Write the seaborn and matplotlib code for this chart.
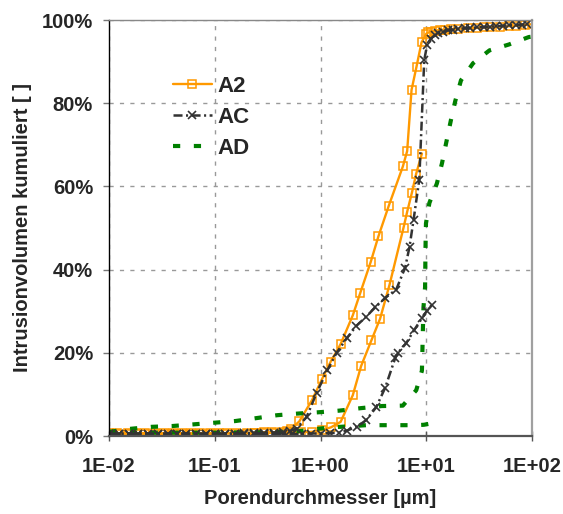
import matplotlib
matplotlib.use("Agg")
import matplotlib.pyplot as plt
import seaborn as sns
from matplotlib.ticker import FixedLocator, FixedFormatter, NullLocator

# ---------------- data (pore diameter in µm, cumulative intrusion in %) ----------------
a2_in_x = [0.010, 0.012, 0.015, 0.018, 0.022, 0.027, 0.033, 0.040, 0.049, 0.060, 0.073,
           0.090, 0.11, 0.13, 0.16, 0.20, 0.24, 0.29, 0.35, 0.43, 0.48, 0.53, 0.63, 0.83,
           1.03, 1.25, 1.55, 2.02, 2.37, 2.99, 3.53, 4.43, 6.01, 6.6, 7.26, 8.09, 9.02,
           10.0, 10.5, 11.0, 12.0, 13.5, 15.0, 17.0, 20.0, 25.0, 30.0, 35.0, 40.0, 50.0,
           60.0, 70.0, 85.0, 100.0]
a2_in_y = [0.7, 0.7, 0.7, 0.7, 0.7, 0.7, 0.7, 0.7, 0.7, 0.7, 0.7,
           0.7, 0.7, 0.7, 0.8, 0.8, 0.8, 0.9, 0.9, 1.0, 1.2, 1.8, 3.5, 8.6,
           13.6, 17.9, 22.1, 29.0, 34.3, 41.9, 48.0, 55.4, 64.8, 68.5, 83.2, 88.8, 94.6,
           96.7, 97.0, 97.2, 97.4, 97.6, 97.7, 97.8, 97.9, 98.0, 98.1, 98.2, 98.3, 98.4,
           98.5, 98.6, 98.8, 99.0]
a2_out_x = [0.010, 0.012, 0.015, 0.018, 0.022, 0.027, 0.033, 0.040, 0.049, 0.060, 0.073,
            0.090, 0.11, 0.13, 0.16, 0.20, 0.24, 0.29, 0.35, 0.43, 0.53, 0.65, 0.83, 1.03,
            1.26, 1.55, 2.02, 2.42, 3.03, 3.66, 4.49, 6.1, 6.6, 7.32, 8.04, 9.1]
a2_out_y = [0.5, 0.5, 0.5, 0.5, 0.5, 0.5, 0.5, 0.5, 0.5, 0.5, 0.5,
            0.5, 0.5, 0.6, 0.6, 0.6, 0.7, 0.7, 0.8, 0.8, 0.9, 0.9, 1.0, 1.4,
            2.1, 3.4, 9.8, 16.8, 23.0, 28.2, 36.3, 50.1, 53.9, 58.5, 63.1, 67.9]

ac_in_x = [0.010, 0.0125, 0.0155, 0.019, 0.0235, 0.029, 0.036, 0.044, 0.054, 0.067, 0.082,
           0.10, 0.125, 0.155, 0.19, 0.235, 0.29, 0.36, 0.44, 0.52, 0.594, 0.74, 0.92,
           1.16, 1.42, 1.77, 2.17, 2.68, 3.29, 4.09, 5.2, 6.32, 6.95, 7.58, 8.59, 9.57,
           10.16, 11.0, 12.0, 13.0, 14.5, 16.0, 18.0, 20.0, 23.0, 26.0, 30.0, 35.0, 40.0,
           46.0, 53.0, 60.0, 70.0, 80.0, 90.0]
ac_in_y = [0.6, 0.6, 0.6, 0.6, 0.6, 0.6, 0.6, 0.6, 0.6, 0.6, 0.6,
           0.6, 0.6, 0.6, 0.7, 0.7, 0.7, 0.8, 0.9, 1.2, 1.8, 4.6, 10.4,
           15.8, 20.0, 23.5, 26.4, 28.6, 30.9, 33.2, 35.2, 40.5, 45.5, 51.9, 61.6, 90.3,
           93.9, 95.5, 96.3, 96.8, 97.2, 97.5, 97.7, 97.9, 98.0, 98.1, 98.2, 98.3, 98.4,
           98.5, 98.6, 98.7, 98.8, 98.9, 99.0]
ac_out_x = [0.010, 0.0125, 0.0155, 0.019, 0.0235, 0.029, 0.036, 0.044, 0.054, 0.067, 0.082,
            0.10, 0.125, 0.155, 0.19, 0.235, 0.29, 0.36, 0.44, 0.54, 0.67, 0.82, 1.0,
            1.23, 1.51, 1.77, 2.2, 2.70, 3.36, 4.09, 5.08, 5.35, 6.46, 7.74, 9.1, 10.16, 11.3]
ac_out_y = [0.5, 0.5, 0.5, 0.5, 0.5, 0.5, 0.5, 0.5, 0.5, 0.5, 0.5,
            0.5, 0.5, 0.5, 0.5, 0.5, 0.5, 0.5, 0.5, 0.5, 0.5, 0.6, 0.6,
            0.7, 0.8, 1.3, 2.2, 3.8, 6.9, 11.6, 18.7, 19.9, 22.3, 25.6, 28.3, 30.1, 31.5]

ad_in_x = [0.0101, 0.0156, 0.0251, 0.0398, 0.0632, 0.1, 0.157, 0.248, 0.389, 0.616, 0.953,
           1.51, 2.42, 3.8, 6.0, 8.04, 9.1, 9.2, 9.3, 9.42, 9.75, 9.8, 9.85, 9.94, 10.7,
           12.6, 14.1, 15.5, 17.1, 18.8, 21.3, 27.7, 39.6, 60.3, 93.3, 100.0]
ad_in_y = [1.0, 1.7, 2.2, 2.4, 2.8, 3.2, 3.6, 4.3, 5.0, 5.4, 5.7,
           6.1, 6.7, 7.2, 7.3, 11.0, 15.7, 20.6, 25.9, 31.0, 35.8, 41.1, 45.9, 51.1, 56.0,
           60.7, 65.6, 70.7, 75.9, 80.5, 85.5, 89.6, 92.7, 94.1, 95.9, 96.0]
ad_out_x = [0.010, 0.03, 0.1, 0.3, 0.6, 1.0, 1.3, 1.8, 2.7, 4.0, 6.0, 8.0, 9.5, 10.5, 11.2]
ad_out_y = [0.8, 0.8, 0.8, 0.9, 1.1, 1.8, 2.1, 2.3, 2.6, 2.6, 2.6, 2.6, 2.7, 2.9, 3.3]

x_ticks = [0.01, 0.1, 1, 10, 100]
x_tick_labels = ["1E-02", "1E-01", "1E+00", "1E+01", "1E+02"]
y_ticks = [0, 20, 40, 60, 80, 100]
y_tick_labels = ["0%", "20%", "40%", "60%", "80%", "100%"]

# ---------------- styling ----------------
sns.set_theme(style="white")
plt.rcParams["font.family"] = ["Liberation Sans", "DejaVu Sans"]
plt.rcParams["font.weight"] = "bold"
plt.rcParams["lines.scale_dashes"] = False

fig = plt.figure(figsize=(5.63, 5.14), dpi=100)
ax = fig.add_axes([109 / 563, 1 - 436 / 514, 423 / 563, 416 / 514])

orange = "#FF9900"
dark = "#333333"
green = "#008000"

a2_kw = dict(color=orange, linewidth=1.7, linestyle="-", marker="s", markersize=5.2,
             markerfacecolor="none", markeredgecolor=orange, markeredgewidth=1.1, zorder=3)
ac_kw = dict(color=dark, linewidth=1.8, linestyle=(0, (6.5, 2.5, 1.5, 2.5)), marker="x",
             markersize=5.5, markeredgecolor=dark, markeredgewidth=1.2, zorder=5)
ad_kw = dict(color=green, linewidth=3.0, linestyle=(0, (5.2, 9.8)), zorder=4)

sns.lineplot(x=a2_in_x, y=a2_in_y, sort=False, estimator=None, ax=ax, label="A2", **a2_kw)
sns.lineplot(x=a2_out_x, y=a2_out_y, sort=False, estimator=None, ax=ax, **a2_kw)
sns.lineplot(x=ac_in_x, y=ac_in_y, sort=False, estimator=None, ax=ax, label="AC", **ac_kw)
sns.lineplot(x=ac_out_x, y=ac_out_y, sort=False, estimator=None, ax=ax, **ac_kw)
sns.lineplot(x=ad_in_x, y=ad_in_y, sort=False, estimator=None, ax=ax, label="AD", **ad_kw)
sns.lineplot(x=ad_out_x, y=ad_out_y, sort=False, estimator=None, ax=ax, **ad_kw)

ax.set_xscale("log")
ax.set_xlim(0.01, 100)
ax.set_ylim(0, 100)
ax.xaxis.set_major_locator(FixedLocator(x_ticks))
ax.xaxis.set_major_formatter(FixedFormatter(x_tick_labels))
ax.xaxis.set_minor_locator(NullLocator())
ax.yaxis.set_major_locator(FixedLocator(y_ticks))
ax.yaxis.set_major_formatter(FixedFormatter(y_tick_labels))

ax.grid(True, which="major", color="#999999", linewidth=1.0, linestyle=(0, (3, 4.5)))
ax.set_axisbelow(True)

for side, col, lw in [("left", "black", 1.0), ("bottom", "#555555", 1.6),
                      ("top", "#888888", 1.0), ("right", "#A0A0A0", 1.6)]:
    ax.spines[side].set_visible(True)
    ax.spines[side].set_color(col)
    ax.spines[side].set_linewidth(lw)
    ax.spines[side].set_zorder(6)

ax.tick_params(axis="y", direction="out", length=4.5, width=1, color="#777777",
               pad=7.0, labelsize=14.5, left=True)
ax.tick_params(axis="x", direction="inout", length=7, width=1, color="#555555",
               pad=11.5, labelsize=14.5, bottom=True)
for lab in ax.get_xticklabels() + ax.get_yticklabels():
    lab.set_fontweight("bold")

ax.set_xlabel("Porendurchmesser [µm]", fontsize=14.5, fontweight="bold", labelpad=9.5)
ax.set_ylabel("Intrusionvolumen kumuliert [ ]", fontsize=14.5, fontweight="bold", labelpad=7)

leg = ax.legend(loc="upper left", bbox_to_anchor=(0.13, 0.887), frameon=False,
                prop=dict(size=16, weight="bold"), handlelength=1.75, handletextpad=0.25,
                labelspacing=0.45, numpoints=1, borderaxespad=0)

fig.savefig("out.png", dpi=100)
